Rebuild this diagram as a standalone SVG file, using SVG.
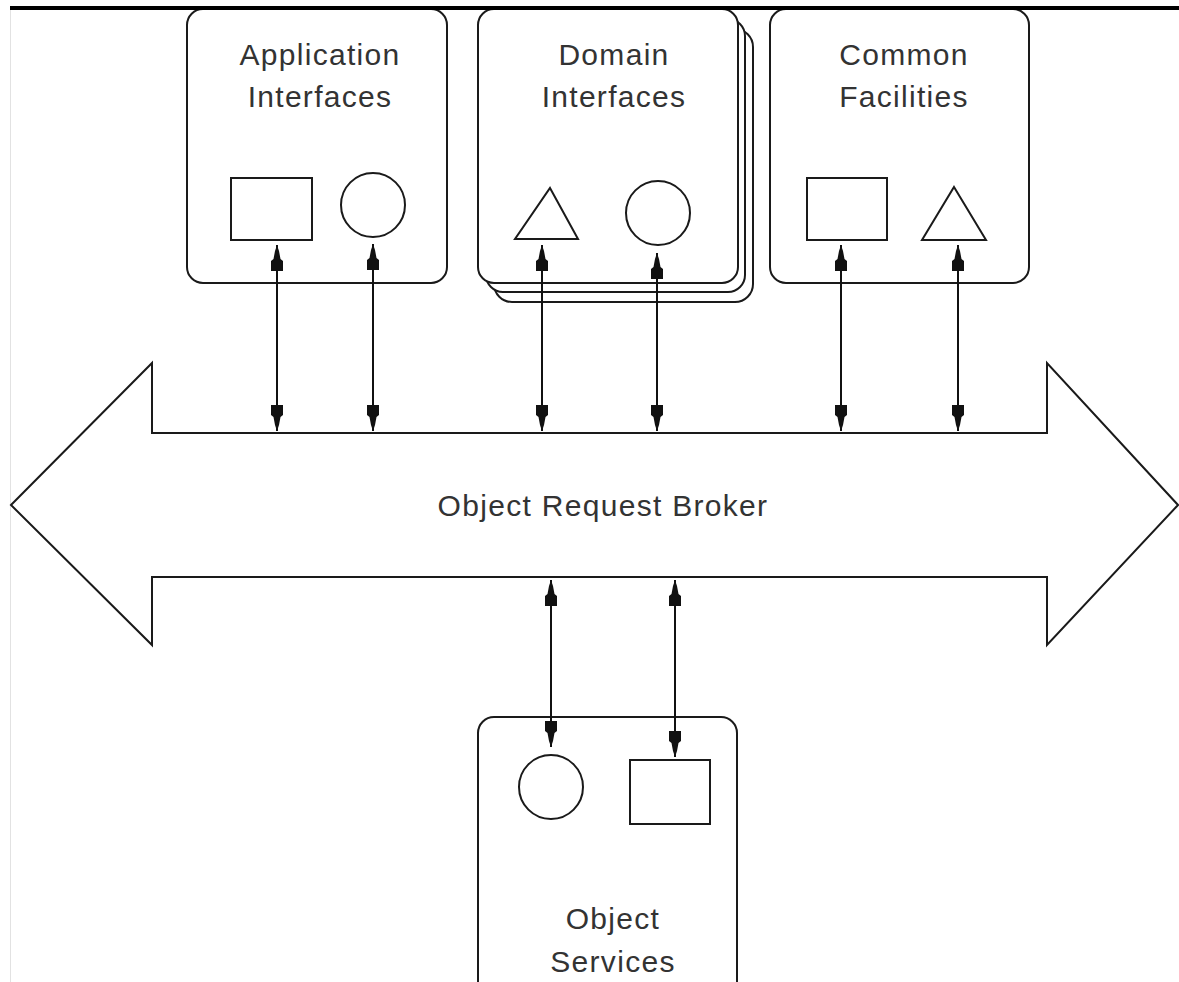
<svg xmlns="http://www.w3.org/2000/svg" width="1179" height="982" viewBox="0 0 1179 982">
  <style>
    .box { fill: #ffffff; stroke: #1a1a1a; stroke-width: 2; }
    .shape { fill: #ffffff; stroke: #1a1a1a; stroke-width: 2; }
    .label { font-family: "Liberation Sans", Arial, sans-serif; font-size: 30px; letter-spacing: 1.3px; fill: #333333; text-anchor: middle; }
    .link { stroke: #111111; stroke-width: 2; fill: none; marker-start: url(#head); marker-end: url(#head); }
  </style>
  <defs>
    <!-- stepped, flat-backed arrowhead; tip at the end point of the line -->
    <marker id="head" markerUnits="userSpaceOnUse" viewBox="-27 -7 28 14" refX="0" refY="0" markerWidth="28" markerHeight="14" orient="auto-start-reverse">
      <path d="M0,0 L-6,-2 L-14,-3.5 L-16,-6 L-26,-6 L-26,6 L-16,6 L-14,3.5 L-6,2 Z" fill="#111111"/>
    </marker>
  </defs>

  <rect x="0" y="0" width="1179" height="982" fill="#ffffff"/>
  <!-- frame edges -->
  <line x1="10.5" y1="10" x2="10.5" y2="982" stroke="#e2e2e2" stroke-width="1"/>

  <!-- Object Request Broker: double-headed bus arrow -->
  <g id="orb">
    <polygon class="box" points="11,505 152,363 152,433 1047,433 1047,363 1178,505 1047,645 1047,577 152,577 152,645"/>
    <text class="label" x="603" y="516">Object Request Broker</text>
  </g>

  <g id="application-interfaces">
    <rect class="box" x="187" y="9" width="260" height="274" rx="16" ry="16"/>
    <text class="label" x="320" y="65">Application</text>
    <text class="label" x="320" y="107">Interfaces</text>
    <rect class="shape" x="231" y="178" width="81" height="62"/>
    <circle class="shape" cx="373" cy="205" r="32"/>
  </g>

  <g id="domain-interfaces">
    <rect class="box" x="494" y="29" width="259" height="273" rx="18" ry="18"/>
    <rect class="box" x="486" y="19" width="259" height="273" rx="17" ry="17"/>
    <rect class="box" x="478" y="9" width="260" height="274" rx="16" ry="16"/>
    <text class="label" x="614" y="65">Domain</text>
    <text class="label" x="614" y="107">Interfaces</text>
    <polygon class="shape" points="550,188 578,239 515,239"/>
    <circle class="shape" cx="658" cy="213" r="32"/>
  </g>

  <g id="common-facilities">
    <rect class="box" x="770" y="9" width="259" height="274" rx="16" ry="16"/>
    <text class="label" x="904" y="65">Common</text>
    <text class="label" x="904" y="107">Facilities</text>
    <rect class="shape" x="807" y="178" width="80" height="62"/>
    <polygon class="shape" points="954,187 986,240 922,240"/>
  </g>

  <g id="object-services">
    <rect class="box" x="478" y="717" width="259" height="285" rx="16" ry="16"/>
    <circle class="shape" cx="551" cy="787" r="32"/>
    <rect class="shape" x="630" y="760" width="80" height="64"/>
    <text class="label" x="613" y="929">Object</text>
    <text class="label" x="613" y="972">Services</text>
  </g>

  <!-- top edge -->
  <line x1="10" y1="8" x2="1179" y2="8" stroke="#000000" stroke-width="4"/>

  <!-- request paths between components and the broker -->
  <g id="connectors">
    <line class="link" x1="277" y1="245" x2="277" y2="431"/>
    <line class="link" x1="373" y1="244" x2="373" y2="431"/>
    <line class="link" x1="542" y1="245" x2="542" y2="431"/>
    <line class="link" x1="657" y1="253" x2="657" y2="431"/>
    <line class="link" x1="841" y1="245" x2="841" y2="431"/>
    <line class="link" x1="958" y1="245" x2="958" y2="431"/>
    <line class="link" x1="551" y1="580" x2="551" y2="747"/>
    <line class="link" x1="675" y1="580" x2="675" y2="757"/>
  </g>
</svg>
